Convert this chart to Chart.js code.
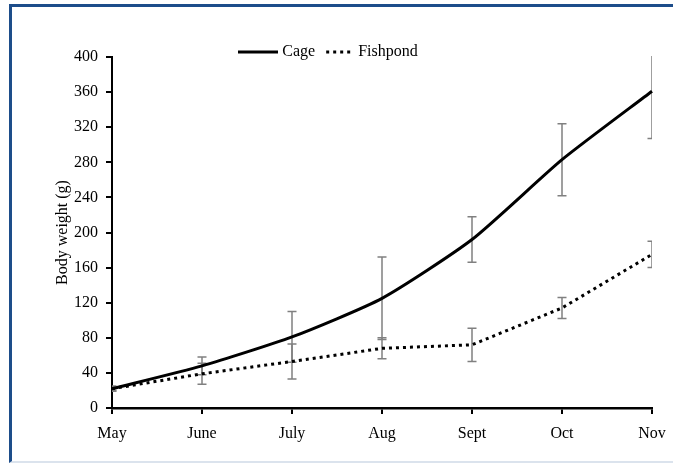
<!DOCTYPE html>
<html>
<head>
<meta charset="utf-8">
<script src="https://cdn.jsdelivr.net/npm/chart.js@4"></script>
<style>
  body { margin: 0; background: #fff; }
  #frame {
    position: absolute; left: 9px; top: 4px;
    width: 661px; height: 454px;
    border-top: 3px solid #1d4d8a;
    border-left: 3px solid #1d4d8a;
    border-bottom: 2px solid #dbe3ed;
  }
</style>
</head>
<body>
<div id="frame"><canvas id="growthChart"></canvas></div>
<script>
// months sampled
const months = ['May', 'June', 'July', 'Aug', 'Sept', 'Oct', 'Nov'];

// mean body weight (g) and error bars
const cage = [22, 48, 81, 125, 192, 283, 361];
const cageErr = [3, 10, 29, 47, 26, 41, 54];
const fishpond = [22, 39, 53, 68, 72, 114, 175];
const fishpondErr = [2, 12, 20, 12, 19, 12, 15];

const serif = 'Liberation Serif, Times New Roman, serif';

// little legend samples: a solid stroke and a dotted one
function legendSample(dash, len) {
    const c = document.createElement('canvas');
    c.width = 40; c.height = 4;
    const g = c.getContext('2d');
    g.strokeStyle = '#000';
    g.lineWidth = 3;
    g.setLineDash(dash);
    g.beginPath();
    g.moveTo(40 - len, 2); g.lineTo(40, 2);
    g.stroke();
    return c;
}

// draws the grey error bars, using the chart's own scales
const errorBars = {
    id: 'errorBars',
    beforeDatasetsDraw(chart) {
        const ctx = chart.ctx;
        const area = chart.chartArea;
        const yScale = chart.scales.y;
        ctx.save();
        ctx.beginPath();
        ctx.rect(area.left, area.top - 1, area.right - area.left, area.bottom - area.top + 1);
        ctx.clip();
        ctx.strokeStyle = '#808080';
        ctx.lineWidth = 1.5;
        chart.data.datasets.forEach((ds, i) => {
            const meta = chart.getDatasetMeta(i);
            meta.data.forEach((pt, j) => {
                const v = ds.data[j], e = ds.errors[j];
                const yTop = yScale.getPixelForValue(v + e);
                const yBot = yScale.getPixelForValue(v - e);
                ctx.beginPath();
                ctx.moveTo(pt.x, yTop); ctx.lineTo(pt.x, yBot);
                ctx.moveTo(pt.x - 4.5, yTop); ctx.lineTo(pt.x + 4.5, yTop);
                ctx.moveTo(pt.x - 4.5, yBot); ctx.lineTo(pt.x + 4.5, yBot);
                ctx.stroke();
            });
        });
        ctx.restore();
    }
};

// nudge the legend to where it sits in the original figure
const legendShift = {
    id: 'legendShift',
    afterLayout(chart) {
        const lg = chart.legend;
        const dx = -2, dy = 13;
        lg.left += dx; lg.right += dx;
        lg.top += dy; lg.bottom += dy;
    }
};

const ctx = document.getElementById('growthChart').getContext('2d');
new Chart(ctx, {
    type: 'line',
    data: {
        labels: months,
        datasets: [{
            label: 'Cage',
            data: cage,
            errors: cageErr,
            borderColor: '#000',
            backgroundColor: '#000',
            borderWidth: 3,
            tension: 0.2,
            pointRadius: 0,
            pointStyle: legendSample([], 40)
        }, {
            label: 'Fishpond',
            data: fishpond,
            errors: fishpondErr,
            borderColor: '#000',
            backgroundColor: '#000',
            borderWidth: 3,
            borderDash: [3, 4],
            tension: 0,
            pointRadius: 0,
            pointStyle: legendSample([3, 4], 28)
        }]
    },
    options: {
        responsive: true,
        maintainAspectRatio: false,
        animation: false,
        layout: { padding: { top: 21, right: 21, bottom: 0, left: 0 } },
        plugins: {
            legend: {
                position: 'top',
                labels: {
                    usePointStyle: true,
                    pointStyleWidth: 32,
                    padding: 3,
                    color: '#000',
                    font: { family: serif, size: 16 }
                }
            },
            tooltip: { enabled: false }
        },
        scales: {
            x: {
                offset: false,
                grid: { display: true, drawOnChartArea: false, drawTicks: true, tickLength: 6, color: '#000', lineWidth: 2, offset: false },
                border: { display: true, color: '#000', width: 2.5 },
                ticks: { color: '#000', padding: 10, maxRotation: 0, font: { family: serif, size: 16 } },
                afterFit(scale) {
                    scale.height = 53;
                    scale.paddingLeft = 0;
                    scale.paddingRight = 0;
                }
            },
            y: {
                min: 0,
                max: 400,
                ticks: { stepSize: 40, color: '#000', padding: 8, font: { family: serif, size: 16 } },
                grid: { display: true, drawOnChartArea: false, drawTicks: true, tickLength: 6, color: '#000', lineWidth: 2 },
                border: { display: true, color: '#000', width: 2 },
                title: {
                    display: true,
                    text: 'Body weight (g)',
                    color: '#000',
                    padding: { top: 41, bottom: 0 },
                    font: { family: serif, size: 16 }
                },
                afterFit(scale) { scale.width = 100; }
            }
        }
    },
    plugins: [errorBars, legendShift]
});
</script>
</body>
</html>
